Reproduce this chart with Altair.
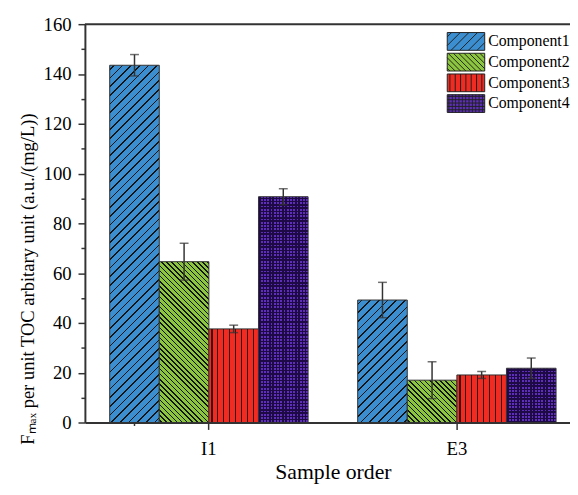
import math
import altair as alt
import pandas as pd

# ---------------- data ----------------
samples = ["I1", "E3"]
components = ["Component1", "Component2", "Component3", "Component4"]
values_I1 = [143.5, 64.6, 37.6, 90.7]
values_E3 = [49.2, 17.0, 19.1, 21.8]
errors_I1 = [4.3, 7.4, 1.5, 3.2]
errors_E3 = [7.1, 7.4, 1.4, 4.1]
y_tick_values = list(range(0, 161, 10))

# ---------------- style ----------------
FONT = "Liberation Serif"
colors = ["#3b8fd1", "#8cc63e", "#ef2b22", "#5e2fb8"]
DARK = "#141414"
PURPLE_DARK = "#1e0a45"
AX = "#333333"

W, H = 492, 404          # plot area
RANGE = 503              # x band range (extends past the visible right edge)
YMAX = 160
PI, PO = 0.2, 0.1
step = RANGE / (len(samples) - PI + 2 * PO)
bar_w = step * (1 - PI) / len(components)

rows = []
for s, vals, errs in [("I1", values_I1, errors_I1), ("E3", values_E3, errors_E3)]:
    for c, v, e in zip(components, vals, errs):
        rows.append(dict(sample=s, component=c, value=v, lo=v - e, hi=v + e))
df = pd.DataFrame(rows)


def hatch(nx, ny, w, h, period, lw, bg, fg):
    """Striped linear gradient (objectBoundingBox) giving stripes normal to (nx, ny) in pixels."""
    n = math.hypot(nx, ny)
    nx, ny = nx / n, ny / n
    x1 = 0.0 if nx >= 0 else 1.0
    y1 = 0.0 if ny >= 0 else 1.0
    smax = abs(nx) * w + abs(ny) * h
    M = nx * nx * w * w + ny * ny * h * h
    lam = smax / M
    x2 = x1 + lam * nx * w
    y2 = y1 + lam * ny * h
    stops = [{"offset": 0, "color": bg}]
    c = period / 2
    while c - lw / 2 < smax:
        a = round(max(c - lw / 2, 0) / smax, 5)
        b = round(min(c + lw / 2, smax) / smax, 5)
        if b > a:
            stops += [{"offset": a, "color": bg}, {"offset": a, "color": fg},
                      {"offset": b, "color": fg}, {"offset": b, "color": bg}]
        c += period
    stops.append({"offset": 1, "color": bg})
    return {"gradient": "linear", "x1": round(x1, 5), "y1": round(y1, 5),
            "x2": round(x2, 5), "y2": round(y2, 5), "stops": stops}


# legend symbol paths (unit = sqrt(size)/2 px)
SYM_SIZE = 324
U = math.sqrt(SYM_SIZE) / 2


def sym_path(kind):
    a = 19 / U
    b = 9 / U
    parts = [f"M{-a:.3f},{-b:.3f}H{a:.3f}V{b:.3f}H{-a:.3f}Z"]
    if kind in ("fslash", "bslash"):
        p = (6.2 if kind == "fslash" else 3.8) / U * math.sqrt(2)
        c = -a - b + p / 2
        while c < a + b:
            xlo, xhi = max(-a, c - b), min(a, c + b)
            if xhi > xlo:
                if kind == "fslash":
                    parts.append(f"M{xlo:.3f},{c - xlo:.3f}L{xhi:.3f},{c - xhi:.3f}")
                else:
                    parts.append(f"M{xlo:.3f},{xlo - c:.3f}L{xhi:.3f},{xhi - c:.3f}")
            c += p
    elif kind == "vert":
        p = 5.4 / U
        c = -a + p / 2
        while c < a:
            parts.append(f"M{c:.3f},{-b:.3f}V{b:.3f}")
            c += p
    else:
        p = 3.4 / U
        c = -a + p / 2
        while c < a:
            parts.append(f"M{c:.3f},{-b:.3f}V{b:.3f}")
            c += p
        c = -b + p / 2
        while c < b:
            parts.append(f"M{-a:.3f},{c:.3f}H{a:.3f}")
            c += p
    return "".join(parts)


sym_paths = [sym_path("fslash"), sym_path("bslash"), sym_path("vert"), sym_path("grid")]

# ---------------- shared encodings ----------------
x_axis = alt.Axis(
    labelFont=FONT, labelFontSize=19, labelColor="black", labelPadding=10, labelAngle=0,
    tickSize=7, tickColor=AX, tickWidth=1.5, domainColor=AX, domainWidth=2,
    titleFont=FONT, titleFontSize=22, titleFontWeight="normal", titleColor="black",
    titleY=57, titleBaseline="alphabetic", grid=False,
)
y_axis = alt.Axis(
    values=y_tick_values,
    labelExpr="datum.value % 20 === 0 ? datum.label : ''",
    tickSize={"condition": {"test": "datum.value % 20 === 0", "value": 7}, "value": 4},
    labelFont=FONT, labelFontSize=19, labelColor="black", labelPadding=7,
    tickColor=AX, tickWidth=1.5, domainColor=AX, domainWidth=2,
    titleFont=FONT, titleFontSize=18.8, titleFontWeight="normal", titleColor="black",
    titleX=-48, titleY=258, titleAlign="center", grid=False,
)
x_scale = alt.Scale(domain=samples, range=[0, RANGE], paddingInner=PI, paddingOuter=PO)
xo_scale = alt.Scale(domain=components, paddingInner=0, paddingOuter=0)
y_scale = alt.Scale(domain=[0, YMAX], nice=False)
Y_TITLE = "Fₘₐₓ per unit TOC arbitary unit (a.u./(mg/L))"


def X(**kw):
    return alt.X("sample:N", scale=x_scale, axis=x_axis, title="Sample order", **kw)


def XO():
    return alt.XOffset("component:N", scale=xo_scale)


def Y(field):
    return alt.Y(f"{field}:Q", scale=y_scale, axis=y_axis, title=Y_TITLE)


base = alt.Chart(df)
layers = []

for s, vals in [("I1", values_I1), ("E3", values_E3)]:
    for i, (c, v) in enumerate(zip(components, vals)):
        h = v / YMAX * H
        sel = base.transform_filter((alt.datum.sample == s) & (alt.datum.component == c))
        enc = dict(x=X(), xOffset=XO(), y=Y("value"))
        if i == 0:
            fill = hatch(1, 1, bar_w, h, 6.2, 1.2, colors[0], DARK)     # "/" hatch
        elif i == 1:
            fill = hatch(1, -1, bar_w, h, 3.7, 1.1, colors[1], DARK)    # "\" hatch
        elif i == 2:
            fill = hatch(1, 0, bar_w, h, 6.0, 1.4, colors[2], "#3a0505")  # vertical
        else:
            fill = hatch(1, 0, bar_w, h, 3.3, 1.4, colors[3], PURPLE_DARK)
        if i < 3:
            layers.append(sel.mark_bar(fill=fill, stroke=AX, strokeWidth=1).encode(**enc))
        else:
            layers.append(sel.mark_bar(fill=fill, strokeWidth=0).encode(**enc))
            over = hatch(0, 1, bar_w, h, 3.3, 1.4, "rgba(0,0,0,0)", PURPLE_DARK)
            layers.append(sel.mark_bar(fill=over, stroke=AX, strokeWidth=1).encode(**enc))

# error bars
layers.append(base.mark_rule(color=AX, strokeWidth=1.5).encode(
    x=X(), xOffset=XO(), y=Y("lo"), y2="hi:Q"))
layers.append(base.mark_tick(color=AX, thickness=1.5, size=9).encode(
    x=X(), xOffset=XO(), y=Y("lo")))
layers.append(base.mark_tick(color=AX, thickness=1.5, size=9).encode(
    x=X(), xOffset=XO(), y=Y("hi")))

# minor x tick between the two samples (end of the I1 band + half the inner padding)
layers.append(alt.Chart(alt.Data(values=[{"sample": "I1"}])).mark_rule(color=AX, strokeWidth=1.5).encode(
    x=X(bandPosition=1), xOffset=alt.value(step * PI / 2), y=alt.value(H), y2=alt.value(H + 3.5)))

# invisible points that carry the legend (pattern swatches)
legend = alt.Legend(
    title=None, orient="none", legendX=377, legendY=8, padding=0,
    symbolSize=SYM_SIZE, symbolStrokeColor="#222222", symbolStrokeWidth=1, symbolOpacity=1,
    labelFont=FONT, labelFontSize=16, labelColor="black", labelOffset=13, rowPadding=-2,
)
layers.append(base.mark_point(filled=True, opacity=0, size=SYM_SIZE, strokeWidth=1).encode(
    x=X(), xOffset=XO(), y=Y("value"),
    color=alt.Color("component:N", scale=alt.Scale(domain=components, range=colors), legend=legend),
    stroke=alt.Stroke("component:N", scale=alt.Scale(domain=components, range=["#222222"] * 4), legend=legend),
    shape=alt.Shape("component:N", scale=alt.Scale(domain=components, range=sym_paths), legend=legend),
))

# top frame line
frame = alt.Chart(alt.Data(values=[{"k": 1}])).mark_rule(color=AX, strokeWidth=2).encode(
    x=alt.value(0), x2=alt.value(W), y=alt.value(0))
layers.append(frame)

chart = alt.layer(*layers).properties(
    width=W, height=H,
    autosize=alt.AutoSizeParams(type="none"),
    padding={"left": 78, "top": 13, "right": 0, "bottom": 62},
).configure_view(stroke=None).configure_legend(labelFont=FONT, labelFontSize=16)

chart.save("out.html", embed_options={"renderer": "svg", "actions": False})
